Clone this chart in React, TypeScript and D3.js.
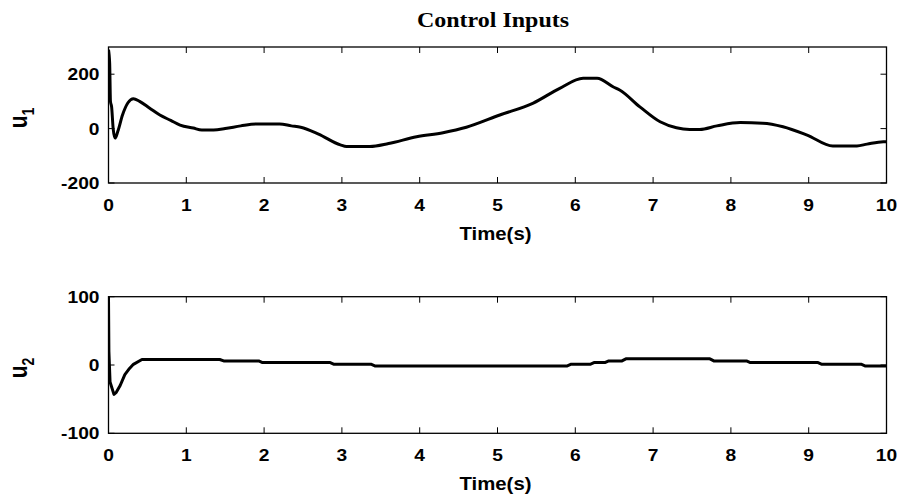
import React from "react";
import * as d3 from "d3";

const xTicks = [0, 1, 2, 3, 4, 5, 6, 7, 8, 9, 10];
const u1Ticks = [-200, 0, 200];
const u2Ticks = [-100, 0, 100];

const u1Time = [0, 0.015, 0.025, 0.04, 0.06, 0.085, 0.12, 0.18, 0.25, 0.32, 0.4, 0.53, 0.66, 0.8, 0.92, 1.09, 1.2, 1.35, 1.5, 1.7, 1.9, 2.2, 2.35, 2.47, 2.7, 2.98, 3.06, 3.36, 3.6, 3.96, 4.3, 4.6, 5.03, 5.46, 5.8, 6.1, 6.28, 6.49, 6.57, 6.83, 7.09, 7.3, 7.47, 7.6, 7.82, 8.12, 8.41, 8.67, 8.98, 9.31, 9.62, 9.75, 9.96, 10];
const u1Value = [290, 240, 100, 80, 0, -35, -10, 50, 95, 110, 100, 75, 50, 30, 13, 2, -5, -5, 0, 10, 17, 17, 10, 5, -20, -60, -66, -66, -55, -30, -15, 5, 50, 94, 148, 185, 185, 153, 142, 80, 25, 3, -3, -3, 10, 22, 20, 7, -24, -64, -64, -57, -48, -48];

const u2Time = [0, 0.005, 0.02, 0.07, 0.1, 0.15, 0.21, 0.27, 0.32, 0.43, 1.43, 1.48, 1.93, 1.98, 2.85, 2.9, 3.38, 3.43, 5.89, 5.94, 6.19, 6.24, 6.38, 6.43, 6.6, 6.65, 7.73, 7.78, 8.2, 8.25, 9.12, 9.17, 9.68, 9.73, 10];
const u2Value = [100, 20, -25, -43, -40, -30, -14, -5, 1, 8, 8, 6, 6, 3.5, 3.5, 1, 1, -1.5, -1.5, 1, 1, 3.5, 3.5, 6, 6, 9, 9, 6, 6, 3.5, 3.5, 1, 1, -1.5, -1.5];

const LEFT = 108.5;
const RIGHT = 886.5;

type PanelProps = {
  top: number;
  bottom: number;
  domain: [number, number];
  yTicks: number[];
  times: number[];
  values: number[];
  sub: string;
  smooth: boolean;
};

function Panel({ top, bottom, domain, yTicks, times, values, sub, smooth }: PanelProps) {
  const x = d3.scaleLinear().domain([0, 10]).range([LEFT, RIGHT]);
  const y = d3.scaleLinear().domain(domain).range([bottom, top]);
  const pts: [number, number][] = times.map((t, i) => [t, values[i]]);
  const line = d3
    .line<[number, number]>()
    .x((d) => x(d[0]))
    .y((d) => y(d[1]))
    .curve(smooth ? d3.curveMonotoneX : d3.curveLinear);
  const tl = 6;
  const midY = (top + bottom) / 2;
  const font = "'Liberation Sans', Arial, Helvetica, sans-serif";
  return (
    <g>
      <defs>
        <clipPath id={`clip-${sub}`}>
          <rect x={LEFT} y={top} width={RIGHT - LEFT} height={bottom - top} />
        </clipPath>
      </defs>
      <path
        d={line(pts) || ""}
        fill="none"
        stroke="#000"
        strokeWidth={3}
        strokeLinejoin="round"
        clipPath={`url(#clip-${sub})`}
      />
      <rect x={LEFT} y={top} width={RIGHT - LEFT} height={bottom - top} fill="none" stroke="#000" strokeWidth={1.3} />
      {xTicks.map((t) => (
        <g key={`xt${t}`}>
          <line x1={x(t)} x2={x(t)} y1={bottom} y2={bottom - tl} stroke="#000" strokeWidth={1} />
          <line x1={x(t)} x2={x(t)} y1={top} y2={top + tl} stroke="#000" strokeWidth={1} />
          <text
            transform={`translate(${x(t)},${bottom + 27.5}) scale(1.13,1)`}
            textAnchor="middle"
            fontFamily={font}
            fontWeight="bold"
            fontSize={17}
          >
            {t}
          </text>
        </g>
      ))}
      {yTicks.map((v) => (
        <g key={`yt${v}`}>
          <line x1={LEFT} x2={LEFT + tl} y1={y(v)} y2={y(v)} stroke="#000" strokeWidth={1} />
          <line x1={RIGHT} x2={RIGHT - tl} y1={y(v)} y2={y(v)} stroke="#000" strokeWidth={1} />
          <text
            transform={`translate(${LEFT - 9},${y(v) + 6}) scale(1.13,1)`}
            textAnchor="end"
            fontFamily={font}
            fontWeight="bold"
            fontSize={17}
          >
            {v}
          </text>
        </g>
      ))}
      <text
        transform={`translate(${(LEFT + RIGHT) / 2 - 2},${bottom + 57}) scale(1.1,1)`}
        textAnchor="middle"
        fontFamily={font}
        fontWeight="bold"
        fontSize={18.5}
      >
        Time(s)
      </text>
      <text
        transform={`translate(27,${midY + 3}) scale(1.2,1) rotate(-90)`}
        textAnchor="middle"
        fontFamily={font}
        fontWeight="bold"
        fontSize={21}
      >
        u
        <tspan fontSize={14} dy={6}>
          {sub}
        </tspan>
      </text>
    </g>
  );
}

export default function App() {
  return (
    <svg
      width={908}
      height={497}
      style={{ position: "absolute", left: 0, top: 0, background: "#fff" }}
    >
      <rect x={0} y={0} width={908} height={497} fill="#fff" />
      <text
        transform={`translate(493,26.5) scale(1.09,1)`}
        textAnchor="middle"
        fontFamily="'Liberation Serif', 'Times New Roman', serif"
        fontWeight="bold"
        fontSize={22}
      >
        Control Inputs
      </text>
      <Panel top={47} bottom={183} domain={[-200, 300]} yTicks={u1Ticks} times={u1Time} values={u1Value} sub="1" smooth={true} />
      <Panel top={296.7} bottom={433.3} domain={[-100, 100]} yTicks={u2Ticks} times={u2Time} values={u2Value} sub="2" smooth={false} />
    </svg>
  );
}
